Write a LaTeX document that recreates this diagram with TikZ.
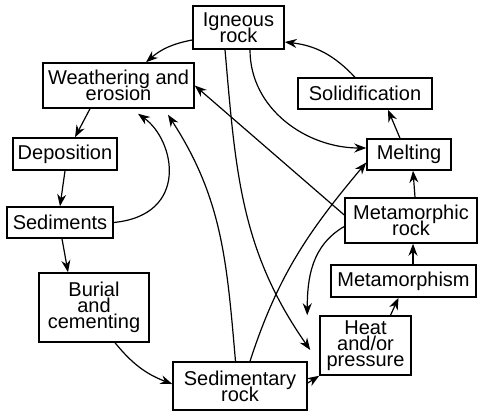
\documentclass[tikz,border=0pt]{standalone}
\usepackage{fontspec}
\setmainfont{Liberation Sans}
\usepackage{tikz}
\usetikzlibrary{arrows.meta}
\setlength{\lineskiplimit}{-20pt}

\begin{document}
\begin{tikzpicture}[x=10pt, y=10pt,
        box/.style={draw, line width=1.5pt, fill=white, inner sep=0pt, align=center,
            font=\fontsize{20}{16}\selectfont},
        arr/.style={line width=1.2pt, -{Stealth[length=12pt, width=9pt]}}]
    \useasboundingbox (0,0) rectangle (47.8,41.3);

        \node[box, minimum width=91pt, minimum height=43pt] (Ign) at (23.85, 38.55) {Igneous\\rock};
        \node[box, minimum width=151pt, minimum height=45pt] (Weath) at (11.85, 32.75) {Weathering and\\erosion};
        \node[box, minimum width=104pt, minimum height=32pt] (Dep) at (6.5, 25.9) {Deposition};
        \node[box, minimum width=106pt, minimum height=31pt] (Sed) at (6.0, 19.05) {Sediments};
        \node[box, minimum width=110pt, minimum height=69pt] (Bur) at (9.4, 10.55) {Burial\\and\\cementing};
        \node[box, minimum width=134pt, minimum height=48pt] (SedR) at (24.0, 2.7) {Sedimentary\\rock};
        \node[box, minimum width=91pt, minimum height=59pt] (Heat) at (36.55, 6.75) {Heat\\and/or\\pressure};
        \node[box, minimum width=145pt, minimum height=32pt] (Meta) at (40.35, 13.2) {Metamorphism};
        \node[box, minimum width=132pt, minimum height=45pt] (MetR) at (41.1, 19.25) {Metamorphic\\rock};
        \node[box, minimum width=84pt, minimum height=31pt] (Melt) at (40.9, 25.85) {Melting};
        \node[box, minimum width=134pt, minimum height=31pt] (Sol) at (36.5, 31.95) {Solidification};

        \draw[arr] ([yshift=-12.5pt]Ign.west) to[bend right=15] ([xshift=27.5pt]Weath.north);
        \draw[arr] ([xshift=-28.5pt]Weath.south) -- ([xshift=10pt]Dep.north);
        \draw[arr] (Dep.south) -- (Sed.north);
        \draw[arr] ([xshift=2pt]Sed.south) -- ([xshift=-26pt]Bur.north);
        \draw[arr] ([xshift=21pt]Bur.south) to[bend right=15] ([yshift=2pt]SedR.west);
        \draw[arr] ([yshift=3pt]SedR.east) -- (Heat.south west);
        \draw[arr] ([xshift=25pt]Heat.north) -- ([xshift=-5pt]Meta.south);
        \draw[arr] ([xshift=9.5pt]Meta.north) -- ([xshift=2pt]MetR.south);
        \draw[arr] ([xshift=4pt]MetR.north) -- ([xshift=4pt]Melt.south);
        \draw[arr] ([xshift=-9pt]Melt.north) -- ([xshift=23pt]Sol.south);
        \draw[arr] ([xshift=-10pt]Sol.north) to[bend right=20] ([yshift=-14.5pt]Ign.east);

        \draw[arr] ([xshift=11.5pt]Ign.south) to[out=-90, in=180] ([yshift=6.5pt]Melt.west);
        \draw[arr] ([xshift=-13.5pt]Ign.south) to[out=-85, in=125] ([xshift=-9pt, yshift=-4.5pt]Heat.west);
        \draw[arr] ([xshift=-4.5pt]SedR.north) to[out=95, in=-57] ([xshift=49.5pt, yshift=-6pt]Weath.south);
        \draw[arr] ([xshift=10pt]SedR.north) to[out=72, in=-130] ([yshift=-8pt]Melt.west);
        \draw[arr] (Sed.east) .. controls (19.0, 19.8) and (17.5, 27.3) .. ([xshift=19.5pt, yshift=-5pt]Weath.south);
        \draw[arr] ([yshift=5.5pt]MetR.west) -- (Weath.east);
        \draw[arr] ([yshift=-6pt]MetR.west) to[out=210, in=90] ([xshift=-12pt]Heat.north west);

\end{tikzpicture}
\end{document}
